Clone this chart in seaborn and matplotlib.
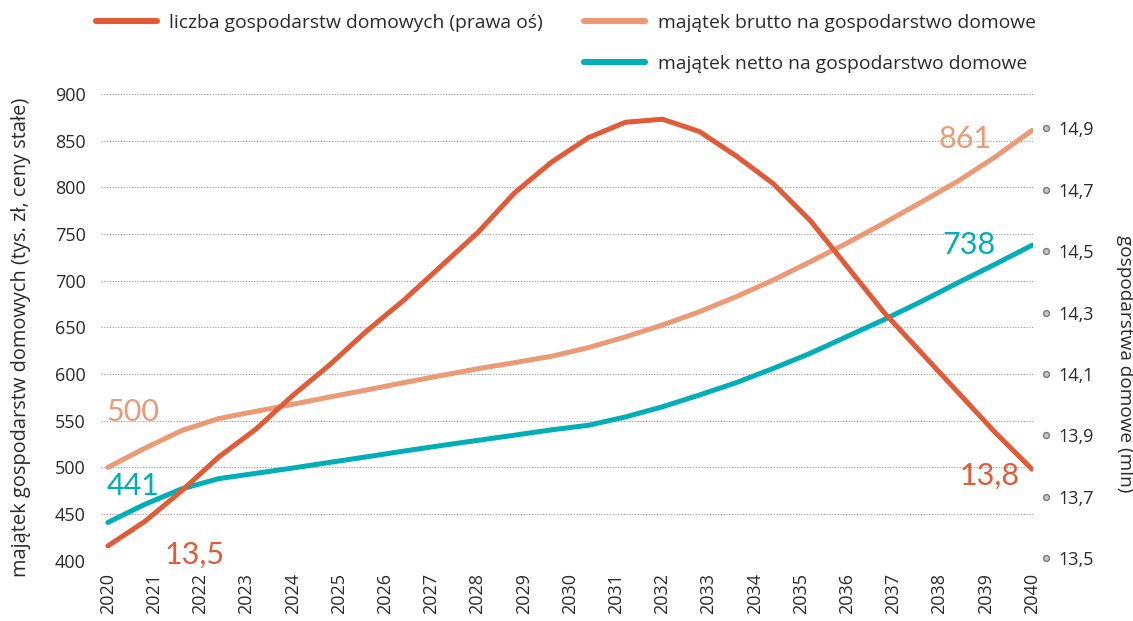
import matplotlib
matplotlib.use("Agg")
import matplotlib.pyplot as plt
from matplotlib.lines import Line2D
import seaborn as sns
import pandas as pd

# time grid of the projection (years)
years = [2020.0, 2020.8, 2021.6, 2022.4, 2023.2, 2024.0, 2024.8, 2025.6, 2026.4,
         2027.2, 2028.0, 2028.8, 2029.6, 2030.4, 2031.2, 2032.0, 2032.8, 2033.6,
         2034.4, 2035.2, 2036.0, 2036.8, 2037.6, 2038.4, 2039.2, 2040.0]

# number of households, mln (right axis)
households = [13.54, 13.62, 13.72, 13.83, 13.92, 14.03, 14.13, 14.24, 14.34,
              14.45, 14.56, 14.69, 14.79, 14.87, 14.92, 14.93, 14.89, 14.81,
              14.72, 14.60, 14.45, 14.30, 14.17, 14.04, 13.91, 13.79]

# gross wealth per household, thousand PLN, constant prices
gross = [500, 520.5, 539.5, 552.3, 560.0, 567.6, 575.4, 582.9, 590.7, 598.3,
         605.6, 612.2, 619.0, 628.3, 639.8, 652.5, 666.7, 682.9, 700.7, 720.3,
         740.4, 761.8, 784.0, 806.8, 832.5, 861]

# net wealth per household, thousand PLN, constant prices
net = [441, 460.4, 477.0, 487.9, 493.6, 499.3, 505.3, 511.3, 517.4, 523.3,
       528.9, 534.5, 540.2, 545.1, 554.0, 564.9, 577.5, 590.8, 606.0, 622.2,
       640.3, 658.4, 677.6, 697.9, 717.6, 738]

x_ticks = list(range(2020, 2041))
left_ticks = [400, 450, 500, 550, 600, 650, 700, 750, 800, 850, 900]
right_ticks = [13.5, 13.7, 13.9, 14.1, 14.3, 14.5, 14.7, 14.9]

label_households = "liczba gospodarstw domowych (prawa oś)"
label_gross = "majątek brutto na gospodarstwo domowe"
label_net = "majątek netto na gospodarstwo domowe"
ylabel_left = "majątek gospodarstw domowych (tys. zł, ceny stałe)"
ylabel_right = "gospodarstwa domowe (mln)"

RED = "#E05B38"
SALMON = "#EC9A75"
TEAL = "#00AEB6"
TEXT = "#2b2b2b"

sns.set_theme(style="white")
plt.rcParams["font.family"] = ["Open Sans", "DejaVu Sans"]

df = pd.DataFrame({"year": years, "households": households,
                   "gross": gross, "net": net})

fig = plt.figure(figsize=(11.33, 6.21), dpi=100)
ax = fig.add_axes([0.0891, 0.0971, 0.8226, 0.7515])
ax2 = ax.twinx()

lw = 3.6
sns.lineplot(data=df, x="year", y="gross", ax=ax, color=SALMON, lw=lw,
             solid_capstyle="round", zorder=3)
sns.lineplot(data=df, x="year", y="net", ax=ax, color=TEAL, lw=lw,
             solid_capstyle="round", zorder=3)
sns.lineplot(data=df, x="year", y="households", ax=ax2, color=RED, lw=lw,
             solid_capstyle="round", zorder=3)

ax.set_xlim(2019.85, 2040.02)
ax.set_ylim(400, 900)
ax2.set_ylim(13.492, 15.012)

# left axis
ax.set_yticks(left_ticks)
ax.set_yticklabels([str(v) for v in left_ticks], fontsize=13, color=TEXT)
ax.tick_params(axis="y", length=0, pad=11)
ax.grid(axis="y", linestyle=(0, (1, 1.5)), color="#9a9a9a", lw=0.8)
ax.grid(axis="x", visible=False)
ax.set_ylabel(ylabel_left, fontsize=14.4, color=TEXT)
ax.yaxis.set_label_coords(-0.075, 0.478)

# x axis
ax.set_xticks(x_ticks)
ax.set_xticklabels([str(y) for y in x_ticks], rotation=90, fontsize=13,
                   color=TEXT)
ax.tick_params(axis="x", length=0, pad=9)
ax.set_xlabel("")

# right axis
ax2.set_yticks(right_ticks)
ax2.set_yticklabels([f"{v:.1f}".replace(".", ",") for v in right_ticks],
                    fontsize=13, color=TEXT)
ax2.tick_params(axis="y", length=0, pad=18)
ax2.grid(False)
ax2.set_ylabel(ylabel_right, fontsize=13.7, color=TEXT, rotation=270,
               va="center")
ax2.yaxis.set_label_coords(1.0987, 0.422)
ax2.plot([1.0145] * len(right_ticks), right_ticks, ls="none", marker="o",
         ms=4.2, mfc="#c8c8c8", mec="#7a7a7a", mew=1.0,
         transform=ax2.get_yaxis_transform(), clip_on=False)

for a in (ax, ax2):
    for s in a.spines.values():
        s.set_visible(False)

# value labels at the ends of the series
vfont = dict(fontsize=22, family=["Lato", "DejaVu Sans"], fontweight="normal")
ax.annotate(f"{gross[0]:.0f}", xy=(years[0], gross[0]), xytext=(-1, 40),
            textcoords="offset points", ha="left", va="center",
            color=SALMON, **vfont)
ax.annotate(f"{net[0]:.0f}", xy=(years[0], net[0]), xytext=(-1, 26),
            textcoords="offset points", ha="left", va="center",
            color=TEAL, **vfont)
ax2.annotate(f"{households[0]:.1f}".replace(".", ","),
             xy=(years[0], households[0]), xytext=(41, -6),
             textcoords="offset points", ha="left", va="center",
             color=RED, **vfont)
ax.annotate(f"{gross[-1]:.0f}", xy=(years[-1], gross[-1]), xytext=(-29, -6),
            textcoords="offset points", ha="right", va="center",
            color=SALMON, **vfont)
ax.annotate(f"{net[-1]:.0f}", xy=(years[-1], net[-1]), xytext=(-26, 0),
            textcoords="offset points", ha="right", va="center",
            color=TEAL, **vfont)
ax2.annotate(f"{households[-1]:.1f}".replace(".", ","),
             xy=(years[-1], households[-1]), xytext=(-9, -5),
             textcoords="offset points", ha="right", va="center",
             color=RED, **vfont)

# legend across the top
handles = [Line2D([], [], color=RED, lw=4.4),
           Line2D([], [], color="none", lw=0),
           Line2D([], [], color=SALMON, lw=4.4),
           Line2D([], [], color=TEAL, lw=4.4)]
labels = [label_households, "", label_gross, label_net]
fig.legend(handles, labels, ncol=2, loc="upper left",
           bbox_to_anchor=(0.069, 1.006), frameon=False, fontsize=13.9,
           handlelength=3.16, handletextpad=0.67, columnspacing=2.12,
           labelspacing=1.2, labelcolor=TEXT)

fig.savefig("out.png", dpi=100)
